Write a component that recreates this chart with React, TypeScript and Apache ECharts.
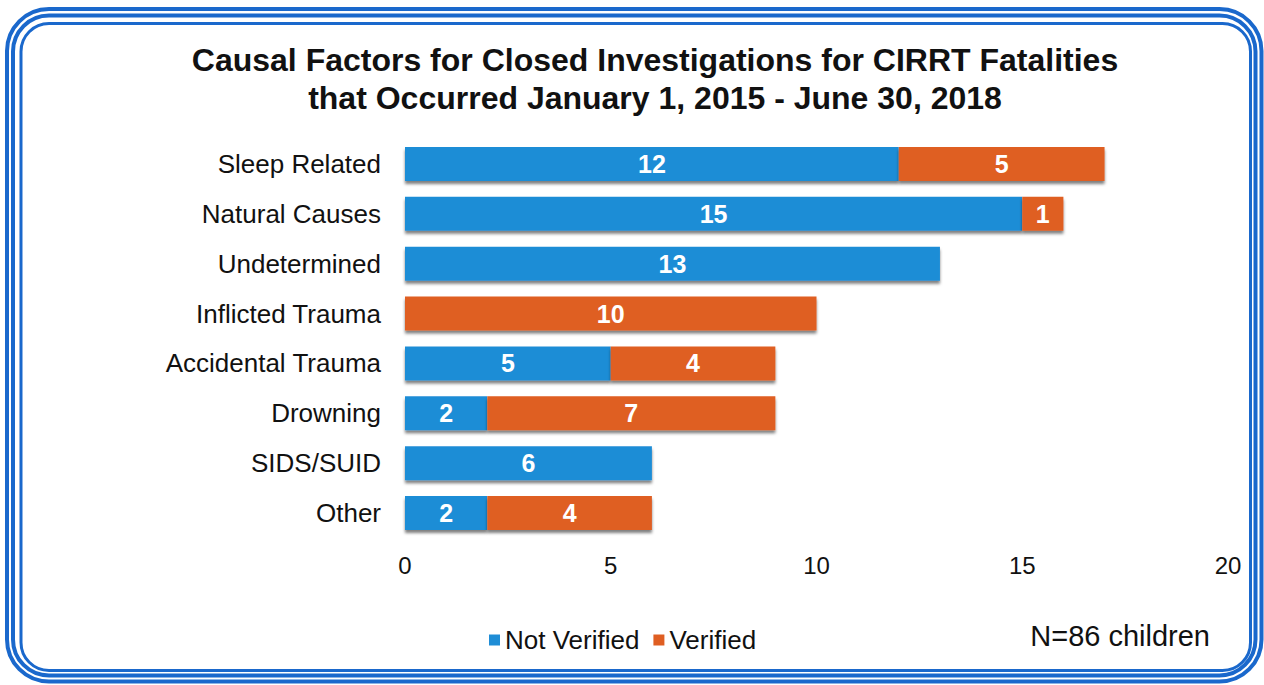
import React, { useEffect, useRef } from "react";
import * as echarts from "echarts";

const categories = [
  "Sleep Related",
  "Natural Causes",
  "Undetermined",
  "Inflicted Trauma",
  "Accidental Trauma",
  "Drowning",
  "SIDS/SUID",
  "Other",
];
const notVerified = [12, 15, 13, 0, 5, 2, 6, 2];
const verified = [5, 1, 0, 10, 4, 7, 0, 4];
const xTicks = [0, 5, 10, 15, 20];
const titleLines = [
  "Causal Factors for Closed Investigations for CIRRT Fatalities",
  "that Occurred January 1, 2015 - June 30, 2018",
];
const noteText = "N=86 children";

const BLUE = "#1f8dd6";
const ORANGE = "#df5e22";
const BORDER = "#1a68cc";
const FONT = "'Liberation Sans', Arial, sans-serif";

export default function App() {
  const ref = useRef<HTMLDivElement>(null);
  useEffect(() => {
    if (!ref.current) return;
    const chart = echarts.init(ref.current, null, { renderer: "svg" });
    const barStyle = (color: string) => ({
      color,
      shadowColor: "rgba(0,0,0,0.5)",
      shadowBlur: 3,
      shadowOffsetY: 3,
      shadowOffsetX: 0,
    });
    const label = {
      show: true,
      position: "inside",
      color: "#fff",
      fontWeight: "bold",
      fontSize: 25,
      fontFamily: FONT,
      formatter: (p: any) => (p.value ? String(p.value) : ""),
    };
    chart.setOption({
      animation: false,
      backgroundColor: "#fff",
      textStyle: { fontFamily: FONT },
      title: {
        text: titleLines.join("\n"),
        left: 650,
        textAlign: "center",
        top: 36,
        textStyle: {
          fontSize: 32,
          fontWeight: "bold",
          color: "#111",
          lineHeight: 38,
          fontFamily: FONT,
        },
      },
      legend: {
        data: ["Not Verified", "Verified"],
        left: 484,
        top: 622,
        icon: "rect",
        itemWidth: 11,
        itemHeight: 11,
        itemGap: 14,
        textStyle: { fontSize: 26, color: "#111", fontFamily: FONT, padding: [0, 0, 0, 0] },
      },
      grid: { left: 405, right: 36, top: 139, bottom: 147 },
      xAxis: {
        type: "value",
        min: xTicks[0],
        max: xTicks[xTicks.length - 1],
        interval: 5,
        axisLine: { show: false },
        axisTick: { show: false },
        splitLine: { show: false },
        axisLabel: { fontSize: 24, color: "#111", margin: 15, fontFamily: FONT },
      },
      yAxis: {
        type: "category",
        data: categories,
        inverse: true,
        axisLine: { show: false },
        axisTick: { show: false },
        axisLabel: { fontSize: 26, color: "#111", margin: 24, fontFamily: FONT },
      },
      series: [
        {
          name: "Not Verified",
          type: "bar",
          stack: "total",
          data: notVerified,
          barWidth: 34,
          itemStyle: barStyle(BLUE),
          label,
        },
        {
          name: "Verified",
          type: "bar",
          stack: "total",
          data: verified,
          barWidth: 34,
          itemStyle: barStyle(ORANGE),
          label,
        },
      ],
      graphic: [
        {
          type: "text",
          right: 54,
          top: 621,
          style: { text: noteText, fontSize: 29, fill: "#111", fontFamily: FONT },
        },
        {
          type: "rect",
          shape: { x: 7, y: 9, width: 1254.5, height: 672.5, r: 42 },
          style: { fill: "none", stroke: BORDER, lineWidth: 4 },
        },
        {
          type: "rect",
          shape: { x: 13, y: 15.5, width: 1242.5, height: 660, r: 36 },
          style: { fill: "none", stroke: BORDER, lineWidth: 4 },
        },
        {
          type: "rect",
          shape: { x: 21, y: 23.5, width: 1229.5, height: 647, r: 28 },
          style: { fill: "none", stroke: BORDER, lineWidth: 3 },
        },
      ],
    });
    return () => chart.dispose();
  }, []);
  return <div ref={ref} style={{ width: 1264, height: 685, position: "absolute", left: 0, top: 0 }} />;
}
